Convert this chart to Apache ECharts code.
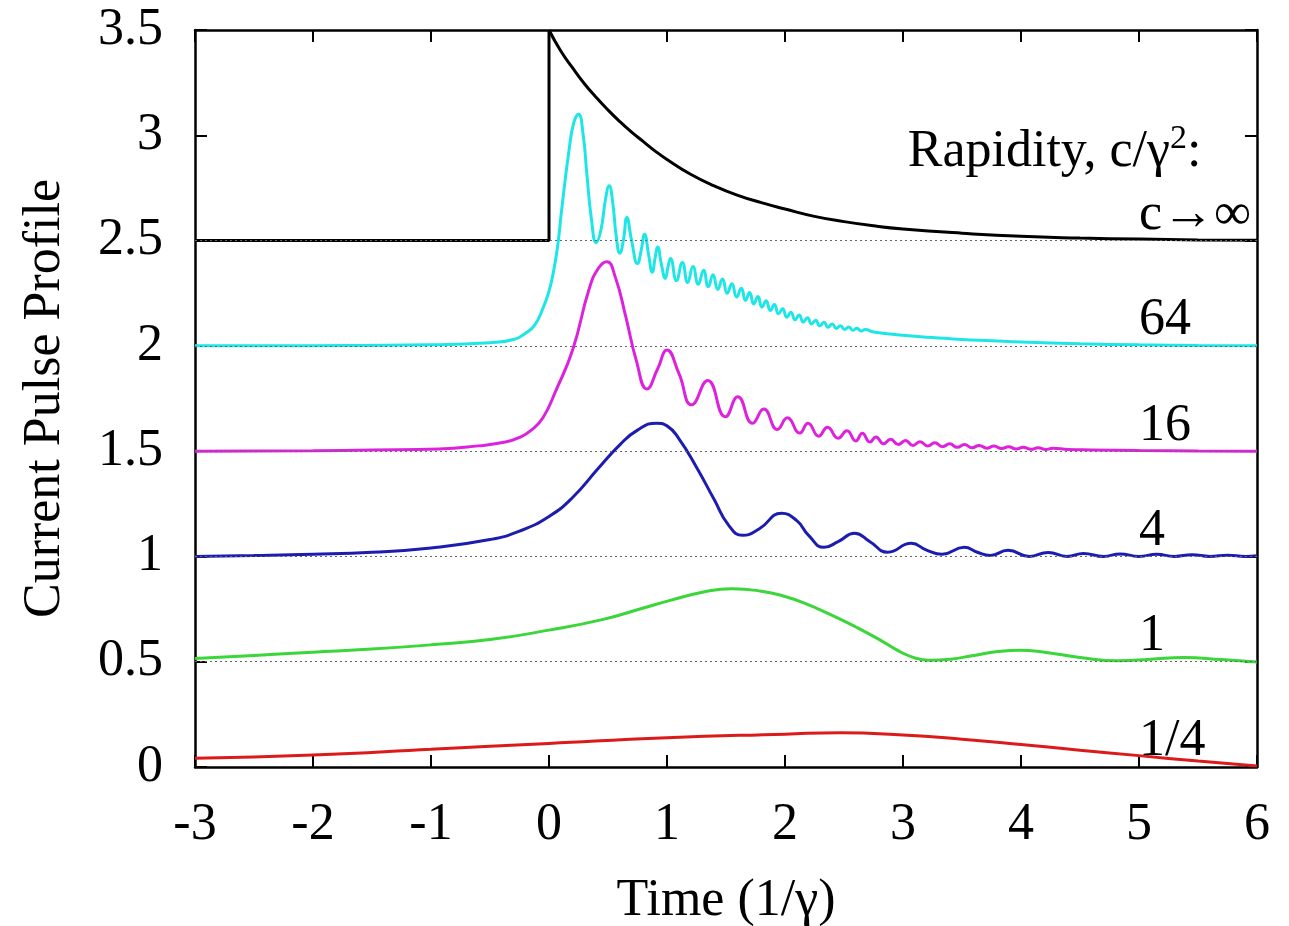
<!DOCTYPE html>
<html><head><meta charset="utf-8">
<script src="https://cdn.jsdelivr.net/npm/echarts@6/dist/echarts.min.js"></script>
<style>html,body{margin:0;padding:0;background:#fff;overflow:hidden}#c{width:1289px;height:926px}</style>
</head><body><div id="c"></div>
<script>
// ---- data ----
const xTicks = [-3, -2, -1, 0, 1, 2, 3, 4, 5, 6];
const yTicks = [0, 0.5, 1, 1.5, 2, 2.5, 3, 3.5];
const curveLabels = ['c\u2192\u221e', '64', '16', '4', '1', '1/4'];
const baselines = [2.5, 2, 1.5, 1, 0.5, 0];
const dottedLevels = [0.5, 1, 1.5, 2, 2.5];

const cInfStep = [[-3,2.5],[0,2.5],[0,3.5]];
const cInfDecay = [[0,3.5],[0.1,3.40],[0.2,3.32],[0.3,3.245],[0.4,3.18],[0.5,3.12],[0.6,3.065],[0.7,3.015],[0.8,2.97],[0.9,2.925],[1.0,2.885],[1.2,2.815],[1.4,2.76],[1.6,2.715],[1.8,2.68],[2.0,2.65],[2.25,2.615],[2.5,2.59],[2.75,2.57],[3.0,2.555],[3.5,2.535],[4.0,2.52],[4.5,2.512],[5.0,2.507],[5.5,2.503],[6.0,2.501]];

const c64 = [[-3,2.0],[-2,2.001],[-1,2.005],[-0.5,2.015],[-0.3,2.03],[-0.2,2.06],[-0.12,2.1],[-0.05,2.18],[0,2.26],[0.03,2.33],[0.07,2.46],[0.11,2.66],[0.17,2.93],[0.21,3.06],[0.25,3.10],[0.29,3.0],[0.32,2.82],[0.36,2.6],[0.40,2.49],[0.44,2.55],[0.48,2.70],[0.51,2.76],[0.54,2.68],[0.57,2.52],[0.60,2.44],[0.63,2.50],[0.66,2.61],[0.70,2.50],[0.75,2.39],[0.78,2.45],[0.81,2.53],[0.845,2.43],[0.875,2.35],[0.90,2.42],[0.92,2.47],[0.955,2.38],[0.985,2.32],[1.01,2.38],[1.03,2.415],[1.08,2.31],[1.13,2.396],[1.175,2.301],[1.22,2.377],[1.265,2.292],[1.31,2.359],[1.35,2.281],[1.39,2.338],[1.43,2.268],[1.47,2.317],[1.51,2.25],[1.55,2.295],[1.59,2.232],[1.63,2.273],[1.665,2.216],[1.70,2.253],[1.735,2.199],[1.77,2.234],[1.805,2.184],[1.84,2.214],[1.875,2.168],[1.91,2.196],[1.945,2.152],[1.98,2.176],[2.015,2.136],[2.05,2.16],[2.085,2.124],[2.12,2.146],[2.155,2.113],[2.19,2.133],[2.225,2.104],[2.26,2.122],[2.295,2.095],[2.33,2.112],[2.365,2.088],[2.40,2.104],[2.435,2.083],[2.47,2.096],[2.505,2.078],[2.54,2.09],[2.575,2.074],[2.61,2.084],[2.645,2.07],[2.68,2.078],[2.75,2.066],[3.0,2.05],[3.25,2.04],[3.5,2.03],[3.75,2.024],[4.0,2.018],[4.5,2.01],[5.0,2.005],[5.5,2.002],[6.0,2.0]];

const c16 = [[-3,1.5],[-2,1.502],[-1.5,1.505],[-0.93,1.51],[-0.6,1.525],[-0.37,1.543],[-0.25,1.565],[-0.15,1.6],[-0.05,1.66],[0.06,1.79],[0.2,1.98],[0.34,2.27],[0.42,2.37],[0.49,2.40],[0.56,2.33],[0.65,2.14],[0.74,1.93],[0.83,1.795],[0.92,1.89],[1.0,1.98],[1.1,1.87],[1.21,1.72],[1.345,1.835],[1.495,1.663],[1.60,1.758],[1.725,1.632],[1.82,1.70],[1.935,1.603],[2.02,1.658],[2.125,1.586],[2.195,1.633],[2.285,1.571],[2.36,1.614],[2.45,1.561],[2.525,1.597],[2.60,1.548],[2.655,1.585],[2.72,1.543],[2.77,1.567],[2.835,1.535],[2.895,1.557],[2.96,1.531],[3.02,1.550],[3.085,1.527],[3.145,1.545],[3.21,1.524],[3.27,1.540],[3.335,1.521],[3.395,1.535],[3.46,1.518],[3.52,1.531],[3.585,1.516],[3.645,1.527],[3.71,1.514],[3.77,1.524],[3.835,1.512],[3.895,1.521],[3.96,1.510],[4.02,1.518],[4.085,1.509],[4.145,1.516],[4.21,1.508],[4.27,1.514],[4.4,1.508],[4.6,1.506],[5.0,1.503],[5.5,1.501],[6.0,1.5]];

const c4 = [[-3,1.0],[-2.5,1.004],[-2,1.01],[-1.5,1.02],[-1,1.04],[-0.5,1.08],[-0.25,1.12],[0,1.19],[0.2,1.28],[0.42,1.42],[0.6,1.53],[0.75,1.60],[0.91,1.633],[1.0,1.62],[1.10,1.56],[1.25,1.424],[1.4,1.27],[1.52,1.15],[1.64,1.10],[1.78,1.13],[1.97,1.205],[2.1,1.17],[2.2,1.10],[2.33,1.043],[2.45,1.07],[2.59,1.11],[2.72,1.07],[2.87,1.02],[3.07,1.062],[3.2,1.03],[3.33,1.01],[3.52,1.043],[3.63,1.02],[3.74,1.005],[3.89,1.029],[4.07,1.0],[4.23,1.019],[4.39,1.0],[4.53,1.014],[4.7,1.0],[4.84,1.012],[5.0,1.0],[5.15,1.01],[5.3,1.0],[5.45,1.008],[5.6,1.0],[5.75,1.006],[5.9,1.0],[6.0,1.003]];

const c1 = [[-3,0.515],[-2.5,0.53],[-2,0.545],[-1.5,0.56],[-1.0,0.58],[-0.5,0.605],[0,0.65],[0.45,0.70],[0.8,0.755],[1.02,0.79],[1.3,0.83],[1.55,0.847],[1.8,0.835],[2.0,0.81],[2.17,0.777],[2.4,0.72],[2.6,0.665],[2.8,0.605],[2.95,0.555],[3.08,0.522],[3.22,0.507],[3.4,0.512],[3.6,0.53],[3.8,0.548],[3.99,0.555],[4.2,0.545],[4.5,0.52],[4.83,0.504],[5.1,0.512],[5.38,0.52],[5.7,0.51],[6.0,0.499]];

const cQuarter = [[-3,0.041],[-2,0.057],[-1,0.084],[0,0.112],[1,0.139],[2,0.156],[2.47,0.163],[3,0.152],[3.5,0.132],[4,0.107],[4.5,0.08],[5,0.054],[5.5,0.028],[6,0.005]];

// ---- chart ----
const FONT = 'Liberation Serif';
const FS = 52;
const labelX = 5.0, labelLift = 0.12;
const legendTitlePos = [3.04, 2.92];

const chart = echarts.init(document.getElementById('c'));

function curve(name, data, color, smooth) {
  return {type:'line', name, data, symbol:'none', showSymbol:false, smooth,
    lineStyle:{color, width:3}, silent:true, animation:false, z:3};
}

const axisCommonX = {type:'value', min:xTicks[0], max:xTicks[xTicks.length-1], interval:1,
  axisLine:{show:true, onZero:false, lineStyle:{color:'#000', width:2.5}},
  axisTick:{show:true, inside:true, length:12, lineStyle:{color:'#000', width:2}},
  splitLine:{show:false}};
const axisCommonY = {type:'value', min:yTicks[0], max:yTicks[yTicks.length-1], interval:0.5,
  axisLine:{show:true, onZero:false, lineStyle:{color:'#000', width:2.5}},
  axisTick:{show:true, inside:true, length:12, lineStyle:{color:'#000', width:2}},
  splitLine:{show:false}};

const option = {
  animation:false,
  backgroundColor:'#fff',
  grid:{left:195, right:32, top:30, bottom:159, containLabel:false, outerBoundsMode:'none'},
  xAxis:[
    Object.assign({}, axisCommonX, {position:'bottom',
      axisLabel:{fontSize:FS, fontFamily:FONT, color:'#000', margin:32},
      name:'Time (1/\u03b3)', nameLocation:'middle', nameGap:108,
      nameTextStyle:{fontSize:FS, fontFamily:FONT, color:'#000'}}),
    Object.assign({}, axisCommonX, {position:'top', axisLabel:{show:false}})
  ],
  yAxis:[
    Object.assign({}, axisCommonY, {position:'left',
      axisLabel:{fontSize:FS, fontFamily:FONT, color:'#000', margin:32},
      name:'Current Pulse Profile', nameLocation:'middle', nameGap:124,
      nameTextStyle:{fontSize:FS, fontFamily:FONT, color:'#000'}}),
    Object.assign({}, axisCommonY, {position:'right', axisLabel:{show:false}})
  ],
  series:[
    curve('1/4', cQuarter, '#dd1a1a', 0.5),
    curve('1', c1, '#3ad63a', 0.5),
    curve('4', c4, '#1c1cb0', 0.5),
    curve('16', c16, '#dd22dd', 0.5),
    curve('64', c64, '#1ee6e6', 0.5),
    curve('c\u2192\u221e', cInfStep, '#000000', false),
    curve('c\u2192\u221e decay', cInfDecay, '#000000', 0.5),
    {type:'line', name:'baselines', data:[], silent:true, z:1,
      markLine:{silent:true, symbol:'none', animation:false,
        label:{show:false}, lineStyle:{type:[2,3], color:'#666', width:1},
        data: dottedLevels.map(v => ({yAxis:v}))}}
  ]
};
chart.setOption(option);

// text labels placed through the chart's own coordinate conversion
const graphics = curveLabels.map((t, i) => {
  const p = chart.convertToPixel({gridIndex:0}, [labelX, baselines[i] + labelLift]);
  return {type:'text', x:p[0], y:p[1], z:10, silent:true,
    style:{text:t, fill:'#000', fontSize:FS, fontFamily:FONT, align:'left', verticalAlign:'middle'}};
});
const tp = chart.convertToPixel({gridIndex:0}, legendTitlePos);
graphics.push({type:'text', x:tp[0], y:tp[1], z:10, silent:true,
  style:{text:'{a|Rapidity, c/\u03b3}{s|2}{a|:}', fill:'#000', align:'left', verticalAlign:'middle',
    rich:{a:{fontSize:FS, fontFamily:FONT, fill:'#000'},
          s:{fontSize:34, fontFamily:FONT, fill:'#000', padding:[0,0,26,0]}}}});
chart.setOption({graphic:graphics});
</script></body></html>
